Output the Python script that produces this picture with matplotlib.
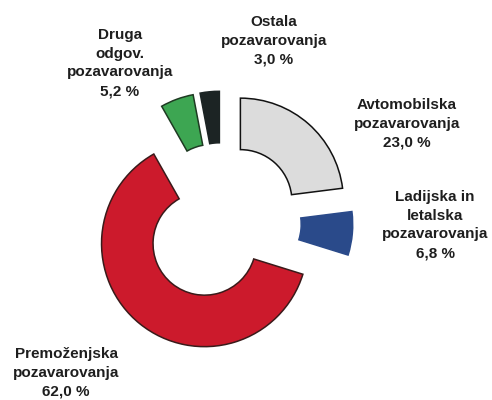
import matplotlib.pyplot as plt

labels = ['Avtomobilska\npozavarovanja', 'Ladijska in\nletalska\npozavarovanja',
          'Premoženjska\npozavarovanja', 'Druga\nodgov.\npozavarovanja',
          'Ostala\npozavarovanja']
shares = [23.0, 6.8, 62.0, 5.2, 3.0]
colors = ['#dcdcdc', '#2a4a8a', '#cc1a2c', '#3da652', '#1c2424']
edges = ['#111111', '#2a4a8a', '#3a1a1a', '#1e3a22', '#1c2424']

# label anchor points in pixels (x from left, y from top)
label_px = [(407, 124), (435, 225), (66, 373), (120, 63), (274, 41)]

W, H = 492, 400
cx, cy, R = 222, 222, 103

fig = plt.figure(figsize=(W / 100, H / 100), dpi=100)
ax = fig.add_axes([0, 0, 1, 1])

wedges, _ = ax.pie(shares, colors=colors, startangle=90, counterclock=False,
                   radius=1, explode=[0.27] * len(shares),
                   wedgeprops=dict(width=0.5, linewidth=1.1))
for w, e in zip(wedges, edges):
    w.set_edgecolor(e)

ax.set_xlim(-cx / R, (W - cx) / R)
ax.set_ylim(-(H - cy) / R, cy / R)
ax.set_aspect('equal')
ax.axis('off')

for lab, v, (px, py) in zip(labels, shares, label_px):
    txt = lab + '\n' + f'{v:.1f}'.replace('.', ',') + ' %'
    ax.text((px - cx) / R, (cy - py) / R, txt, ha='center', va='center',
            fontsize=11, fontweight='bold', family='Liberation Sans',
            color='#1e1e1e', linespacing=1.45)

plt.savefig('out.png', dpi=100)
